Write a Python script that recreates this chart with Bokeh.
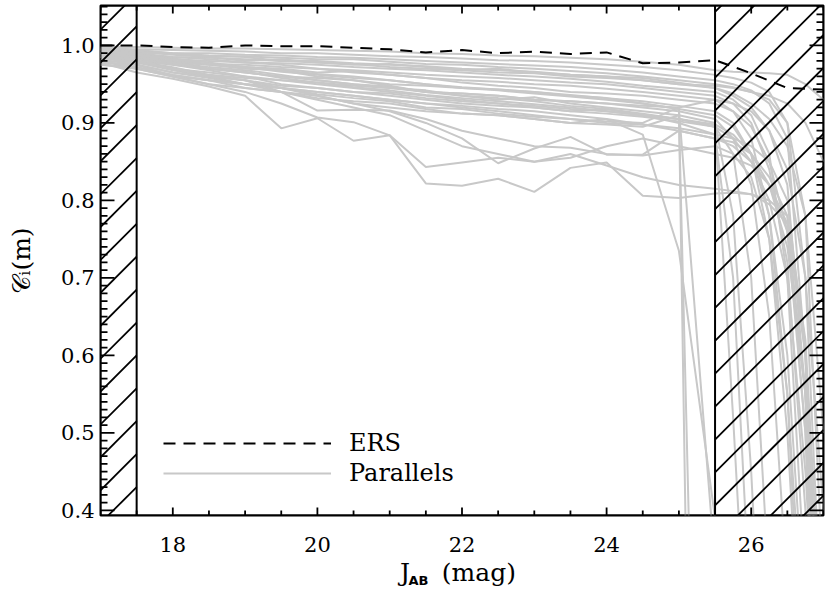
import numpy as np
from bokeh.plotting import figure
from bokeh.models import (Range1d, SingleIntervalTicker, Span, Label,
                          Legend, LegendItem, PrintfTickFormatter)
from bokeh.embed import file_html
from bokeh.resources import INLINE

# ---------------- data ----------------
mag = [17.0, 17.5, 18.0, 18.5, 19.0, 19.5, 20.0, 20.5, 21.0, 21.5, 22.0, 22.5,
       23.0, 23.5, 24.0, 24.5, 25.0, 25.5, 25.75, 26.0, 26.25, 26.5, 26.75, 27.0]

ers_mag = [17.0, 17.5, 18.0, 18.5, 19.0, 19.5, 20.0, 20.5, 21.0, 21.5, 22.0,
           22.5, 23.0, 23.5, 24.0, 24.5, 25.0, 25.5, 26.0, 26.5, 27.0]
ers = [1.000, 1.000, 0.998, 0.997, 1.000, 0.999, 0.999, 0.997, 0.995, 0.991, 0.994,
       0.990, 0.992, 0.989, 0.991, 0.977, 0.978, 0.981, 0.964, 0.945, 0.943]

parallels = [
    [0.998, 0.998, 0.997, 0.996, 0.996, 0.995, 0.994, 0.993, 0.992, 0.990, 0.989, 0.987, 0.986, 0.984, 0.982, 0.979, 0.975, 0.968, 0.966, 0.965, 0.964, 0.962, 0.950, 0.930],
    [0.996, 0.995, 0.994, 0.993, 0.992, 0.990, 0.990, 0.988, 0.986, 0.985, 0.983, 0.981, 0.980, 0.978, 0.975, 0.972, 0.968, 0.962, 0.958, 0.952, 0.940, 0.900, 0.700, 0.200],
    [0.994, 0.993, 0.990, 0.990, 0.988, 0.987, 0.985, 0.984, 0.982, 0.980, 0.978, 0.976, 0.974, 0.972, 0.969, 0.965, 0.960, 0.955, 0.950, 0.942, 0.925, 0.880, 0.600, -0.200],
    [0.992, 0.991, 0.989, 0.986, 0.986, 0.984, 0.982, 0.982, 0.979, 0.976, 0.975, 0.972, 0.970, 0.967, 0.964, 0.960, 0.955, 0.950, 0.946, 0.940, 0.930, 0.900, 0.780, 0.300],
    [0.990, 0.988, 0.985, 0.984, 0.982, 0.980, 0.980, 0.977, 0.975, 0.973, 0.970, 0.968, 0.966, 0.962, 0.960, 0.955, 0.950, 0.945, 0.935, 0.920, 0.890, 0.820, 0.550, -0.300],
    [0.988, 0.986, 0.982, 0.980, 0.978, 0.977, 0.975, 0.972, 0.970, 0.968, 0.965, 0.962, 0.960, 0.957, 0.953, 0.948, 0.944, 0.940, 0.930, 0.910, 0.860, 0.700, 0.300, -0.600],
    [0.996, 0.994, 0.990, 0.987, 0.985, 0.980, 0.978, 0.976, 0.972, 0.970, 0.968, 0.965, 0.964, 0.960, 0.958, 0.955, 0.950, 0.948, 0.945, 0.940, 0.935, 0.925, 0.900, 0.850],
    [0.985, 0.983, 0.980, 0.976, 0.975, 0.972, 0.970, 0.968, 0.965, 0.962, 0.960, 0.958, 0.955, 0.952, 0.950, 0.945, 0.940, 0.935, 0.925, 0.900, 0.840, 0.720, 0.400, -0.100],
    [0.995, 0.992, 0.988, 0.985, 0.980, 0.982, 0.978, 0.975, 0.976, 0.972, 0.968, 0.970, 0.965, 0.962, 0.960, 0.958, 0.952, 0.945, 0.938, 0.925, 0.905, 0.870, 0.780, 0.500],
    [0.990, 0.987, 0.978, 0.975, 0.972, 0.970, 0.965, 0.967, 0.962, 0.958, 0.955, 0.953, 0.950, 0.948, 0.944, 0.940, 0.935, 0.930, 0.915, 0.880, 0.780, 0.550, 0.100, -0.500],
    [0.985, 0.980, 0.975, 0.970, 0.965, 0.960, 0.958, 0.955, 0.950, 0.948, 0.945, 0.943, 0.940, 0.935, 0.932, 0.928, 0.922, 0.915, 0.900, 0.860, 0.750, 0.500, 0.100, -0.400],
    [0.990, 0.985, 0.978, 0.972, 0.968, 0.962, 0.955, 0.950, 0.947, 0.940, 0.938, 0.935, 0.930, 0.928, 0.925, 0.920, 0.915, 0.905, 0.880, 0.820, 0.650, 0.300, -0.200, -0.800],
    [0.980, 0.978, 0.970, 0.965, 0.960, 0.955, 0.952, 0.948, 0.945, 0.942, 0.935, 0.930, 0.933, 0.925, 0.920, 0.915, 0.910, 0.900, 0.780, 0.450, 0.000, -0.500, -1.000, -1.500],
    [0.988, 0.982, 0.975, 0.968, 0.960, 0.950, 0.945, 0.940, 0.935, 0.930, 0.925, 0.922, 0.920, 0.915, 0.912, 0.908, 0.902, 0.895, 0.880, 0.850, 0.800, 0.700, 0.450, 0.050],
    [0.978, 0.975, 0.965, 0.960, 0.955, 0.948, 0.945, 0.940, 0.938, 0.932, 0.928, 0.925, 0.922, 0.918, 0.915, 0.910, 0.905, 0.895, 0.860, 0.700, 0.300, -0.300, -1.000, -1.500],
    [0.983, 0.980, 0.972, 0.962, 0.958, 0.955, 0.950, 0.945, 0.940, 0.935, 0.930, 0.925, 0.920, 0.915, 0.918, 0.910, 0.900, 0.885, 0.700, 0.250, -0.400, -1.000, -1.600, -2.000],
    [0.990, 0.985, 0.980, 0.975, 0.970, 0.968, 0.960, 0.955, 0.948, 0.940, 0.935, 0.932, 0.928, 0.922, 0.918, 0.912, 0.905, 0.895, 0.520, 0.100, -0.400, -1.000, -1.500, -2.000],
    [0.975, 0.972, 0.962, 0.955, 0.950, 0.945, 0.940, 0.935, 0.930, 0.925, 0.920, 0.915, 0.910, 0.905, 0.900, 0.898, 0.893, 0.885, 0.880, 0.870, 0.850, 0.800, 0.600, 0.100],
    [0.985, 0.978, 0.968, 0.960, 0.950, 0.945, 0.937, 0.932, 0.928, 0.920, 0.918, 0.912, 0.908, 0.905, 0.902, 0.900, 0.920, 0.930, 0.925, 0.915, 0.890, 0.840, 0.700, 0.400],
    [0.980, 0.970, 0.960, 0.955, 0.945, 0.940, 0.935, 0.925, 0.920, 0.915, 0.912, 0.910, 0.905, 0.900, 0.905, 0.898, 0.890, 0.880, 0.870, 0.850, 0.820, 0.760, 0.550, 0.000],
    [0.995, 0.990, 0.985, 0.982, 0.978, 0.975, 0.970, 0.965, 0.962, 0.958, 0.952, 0.948, 0.945, 0.940, 0.938, 0.935, 0.930, 0.925, 0.915, 0.895, 0.850, 0.760, 0.500, 0.000],
    [0.992, 0.988, 0.983, 0.978, 0.972, 0.966, 0.962, 0.958, 0.955, 0.950, 0.945, 0.942, 0.938, 0.934, 0.930, 0.925, 0.918, 0.910, 0.895, 0.860, 0.780, 0.600, 0.250, -0.300],
    [0.987, 0.983, 0.976, 0.970, 0.966, 0.958, 0.952, 0.946, 0.942, 0.936, 0.932, 0.928, 0.924, 0.920, 0.915, 0.910, 0.905, 0.898, 0.885, 0.860, 0.820, 0.740, 0.550, 0.200],
    [0.982, 0.975, 0.965, 0.958, 0.950, 0.945, 0.940, 0.935, 0.930, 0.925, 0.922, 0.918, 0.915, 0.910, 0.905, 0.885, 0.735, 0.390, 0.200, 0.000, -0.200, -0.400, -0.600, -0.800],
    [0.990, 0.985, 0.978, 0.970, 0.965, 0.960, 0.955, 0.950, 0.945, 0.940, 0.938, 0.935, 0.930, 0.928, 0.925, 0.922, 0.920, -2.000, -2.200, -2.400, -2.600, -2.800, -3.000, -3.200],
    [0.975, 0.970, 0.960, 0.950, 0.945, 0.940, 0.932, 0.928, 0.925, 0.918, 0.912, 0.910, 0.905, 0.900, 0.898, 0.895, 0.910, -1.000, -1.200, -1.400, -1.600, -1.800, -2.000, -2.200],
    [0.993, 0.988, 0.982, 0.976, 0.972, 0.968, 0.963, 0.960, 0.955, 0.950, 0.946, 0.943, 0.940, 0.936, 0.932, 0.925, 0.918, 0.330, -0.200, -0.600, -1.000, -1.400, -1.800, -2.200],
    [0.978, 0.965, 0.957, 0.947, 0.935, 0.893, 0.906, 0.877, 0.884, 0.843, 0.849, 0.855, 0.850, 0.860, 0.845, 0.830, 0.820, 0.815, 0.812, 0.808, 0.800, 0.780, 0.620, 0.200],
    [0.985, 0.975, 0.960, 0.950, 0.940, 0.925, 0.907, 0.901, 0.884, 0.822, 0.819, 0.828, 0.811, 0.842, 0.849, 0.806, 0.803, 0.809, 0.810, 0.808, 0.795, 0.770, 0.550, 0.100],
    [0.990, 0.980, 0.970, 0.960, 0.955, 0.940, 0.916, 0.917, 0.916, 0.905, 0.890, 0.880, 0.870, 0.868, 0.860, 0.858, 0.865, 0.870, 0.860, 0.830, 0.750, 0.550, 0.200, -0.300],
    [0.988, 0.980, 0.970, 0.962, 0.955, 0.945, 0.935, 0.925, 0.915, 0.900, 0.880, 0.848, 0.867, 0.882, 0.859, 0.859, 0.890, 0.880, 0.875, 0.860, 0.830, 0.780, 0.500, -0.100],
    [0.980, 0.972, 0.962, 0.955, 0.950, 0.940, 0.930, 0.920, 0.910, 0.890, 0.870, 0.860, 0.850, 0.855, 0.870, 0.880, 0.870, 0.860, 0.855, 0.845, 0.820, 0.770, 0.600, 0.150],
]

excluded_left = [17.0, 25.5]
excluded_right = [17.5, 27.0]
hatch_anchor = [1.0203, 0.7462]     # y where a hatch line meets the region's left edge
limit_lines = [17.5, 25.5]

x_lim = (17.0, 27.0)
y_lim = (0.3935, 1.0515)
x_major_ticks = [18, 20, 22, 24, 26]
y_major_ticks = [0.4, 0.5, 0.6, 0.7, 0.8, 0.9, 1.0]
x_minor_step = 0.5
y_minor_step = 0.01

# ---------------- styling / geometry ----------------
SERIF = "DejaVu Serif"
GRAY = "#c8c8c8"
NB = "\u00a0"
FW, FH = 723, 510
px_x = FW / (x_lim[1] - x_lim[0])     # px per mag
px_y = FH / (y_lim[1] - y_lim[0])     # px per unit completeness
HATCH_SPACING = 32.9                  # px, vertical
TICK_X_MAJ, TICK_X_MIN = 8, 5
TICK_Y_MAJ, TICK_Y_MIN = 14, 7

p = figure(frame_width=FW, frame_height=FH, output_backend="svg",
           toolbar_location=None,
           x_range=Range1d(*x_lim), y_range=Range1d(*y_lim),
           min_border_left=100, min_border_right=7, min_border_top=5,
           min_border_bottom=78)
p.grid.visible = False
p.outline_line_color = "black"
p.outline_line_width = 2
p.background_fill_color = "white"
p.border_fill_color = "white"

# gray parallels
par_r = p.multi_line(xs=[mag] * len(parallels), ys=parallels,
                     line_color=GRAY, line_width=2)

# hatching (45 deg lines, clipped by the frame)
sx0, sy0, sx1, sy1 = [], [], [], []
for a, b, ya in zip(excluded_left, excluded_right, hatch_anchor):
    dy = HATCH_SPACING / px_y
    rise = (b - a) * px_x / px_y
    for k in range(-40, 40):
        y_a = ya + k * dy
        y_b = y_a + rise
        if y_b < y_lim[0] or y_a > y_lim[1]:
            continue
        sx0.append(float(a)); sy0.append(float(y_a))
        sx1.append(float(b)); sy1.append(float(y_b))
p.segment(x0=sx0, y0=sy0, x1=sx1, y1=sy1, line_color="black", line_width=1.8)

# inward ticks on all four sides, drawn as one "comb" polyline per side
x_minor = [float(v) for v in np.arange(x_lim[0], x_lim[1] + 1e-9, x_minor_step)]
y_minor = [float(v) for v in np.round(np.arange(0.4, y_lim[1], y_minor_step), 3)]

comb_xs, comb_ys = [], []
for yb, sgn in ((y_lim[0], 1), (y_lim[1], -1)):
    cx, cy = [x_lim[0]], [yb]
    for x in x_minor:
        d = (TICK_X_MAJ if x in x_major_ticks else TICK_X_MIN) / px_y
        cx += [x, x, x]; cy += [yb, yb + sgn * d, yb]
    cx.append(x_lim[1]); cy.append(yb)
    comb_xs.append(cx); comb_ys.append(cy)
for xb, sgn in ((x_lim[0], 1), (x_lim[1], -1)):
    cx, cy = [xb], [y_lim[0]]
    for y in y_minor:
        major = any(abs(y - m) < 1e-6 for m in y_major_ticks)
        d = (TICK_Y_MAJ if major else TICK_Y_MIN) / px_x
        cx += [xb, xb + sgn * d, xb]; cy += [y, y, y]
    cx.append(xb); cy.append(y_lim[1])
    comb_xs.append(cx); comb_ys.append(cy)
p.multi_line(xs=comb_xs, ys=comb_ys, line_color="black", line_width=1.8,
             line_join="bevel")

for loc in limit_lines:
    p.add_layout(Span(location=loc, dimension="height", line_color="black",
                      line_width=2))

# ERS
ers_r = p.line(ers_mag, ers, line_color="black", line_width=2, line_dash="12 8")

# axes (labels only; ticks drawn above)
for ax in (p.xaxis[0], p.yaxis[0]):
    ax.axis_line_color = None
    ax.major_tick_in = 0
    ax.major_tick_out = 0
    ax.minor_tick_in = 0
    ax.minor_tick_out = 0
    ax.major_label_text_font = SERIF
    ax.major_label_text_font_size = "21px"
    ax.major_label_text_color = "black"

p.xaxis.ticker = SingleIntervalTicker(interval=2, num_minor_ticks=4)
p.yaxis.ticker = SingleIntervalTicker(interval=0.1, num_minor_ticks=10)
p.yaxis.formatter = PrintfTickFormatter(format="%.1f")
p.xaxis.major_label_standoff = 21
p.yaxis.major_label_standoff = 6

p.yaxis.axis_label = "𝒞ᵢ(m)"
p.yaxis.axis_label_text_font = SERIF
p.yaxis.axis_label_text_font_size = "25px"
p.yaxis.axis_label_text_font_style = "normal"
p.yaxis.axis_label_text_color = "black"
p.yaxis.axis_label_standoff = 22

# x axis title: J_AB (mag)
p.xaxis.axis_label = "J" + NB * 4 + "(mag)" + NB
p.xaxis.axis_label_text_font = SERIF
p.xaxis.axis_label_text_font_size = "25px"
p.xaxis.axis_label_text_font_style = "normal"
p.xaxis.axis_label_text_color = "black"
p.xaxis.axis_label_standoff = 3

p.add_layout(Label(x=308, y=24, x_units="screen", y_units="screen", text="AB",
                   text_font="DejaVu Sans", text_font_size="13px",
                   text_font_style="bold", text_color="black",
                   text_baseline="alphabetic"), "below")

legend = Legend(items=[LegendItem(label="ERS", renderers=[ers_r]),
                       LegendItem(label="Parallels", renderers=[par_r])],
                location=(63, 27), glyph_width=168, glyph_height=30,
                label_height=30, label_standoff=18, spacing=0, padding=0,
                margin=0, border_line_alpha=0, background_fill_alpha=0,
                label_text_font=SERIF, label_text_font_size="24px",
                label_text_color="black")
p.add_layout(legend)

open("out.html", "w").write(file_html(p, INLINE))
